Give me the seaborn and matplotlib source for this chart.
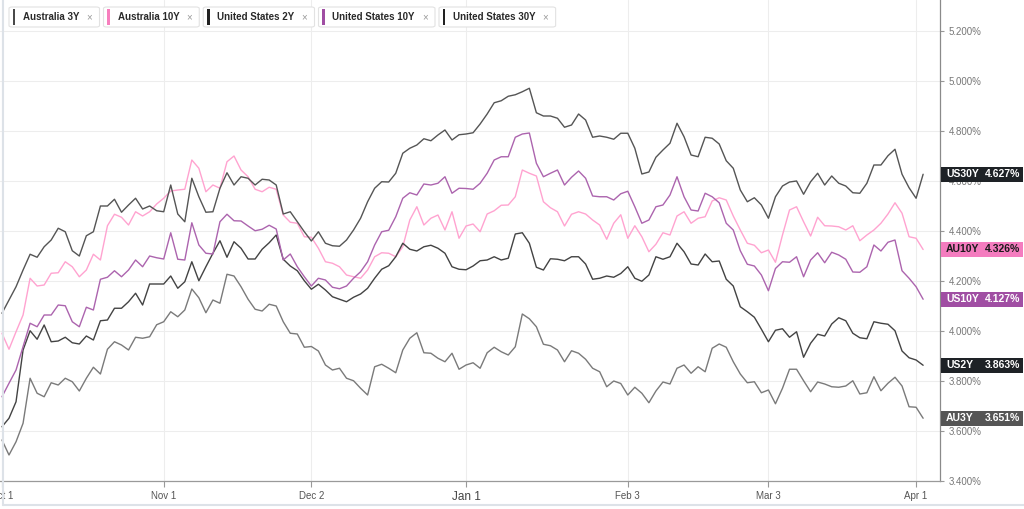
import numpy as np
import pandas as pd
import matplotlib
matplotlib.use("Agg")
import matplotlib.pyplot as plt
import matplotlib.transforms as mtransforms
from matplotlib.patches import Rectangle, FancyBboxPatch
from matplotlib.lines import Line2D
import seaborn as sns

# Trading days shown on the chart (one point per weekday)
dates = pd.bdate_range("2024-10-01", "2025-04-02")

# Yields (%), one value per weekday
au3y = [3.564, 3.504, 3.557, 3.631, 3.811, 3.751, 3.737, 3.793, 3.784, 3.811, 3.797, 3.760, 3.811, 3.855, 3.828, 3.927, 3.957, 3.944, 3.924, 3.975, 3.971, 3.977, 4.025,
        4.037, 4.077, 4.057, 4.084, 4.168, 4.133, 4.073, 4.124, 4.111, 4.227, 4.220, 4.177, 4.127, 4.087, 4.080, 4.107, 4.100, 4.037, 3.991, 3.988, 3.935, 3.938,
        3.920, 3.864, 3.844, 3.851, 3.811, 3.801, 3.771, 3.744, 3.857, 3.867, 3.851, 3.833, 3.924, 3.971, 3.993, 3.913, 3.911, 3.891, 3.877, 3.911, 3.847, 3.864,
        3.873, 3.851, 3.913, 3.935, 3.917, 3.904, 3.937, 4.068, 4.049, 4.017, 3.947, 3.941, 3.924, 3.877, 3.921, 3.911, 3.887, 3.851, 3.837, 3.777, 3.800, 3.790,
        3.744, 3.775, 3.751, 3.713, 3.760, 3.796, 3.788, 3.851, 3.864, 3.831, 3.857, 3.837, 3.931, 3.948, 3.935, 3.877, 3.828, 3.793, 3.797, 3.753, 3.764, 3.709,
        3.771, 3.847, 3.847, 3.801, 3.757, 3.796, 3.788, 3.777, 3.775, 3.780, 3.801, 3.748, 3.753, 3.817, 3.761, 3.791, 3.815, 3.780, 3.697, 3.695, 3.651]
au10y = [3.991, 3.927, 3.997, 4.064, 4.211, 4.180, 4.184, 4.231, 4.233, 4.277, 4.257, 4.217, 4.244, 4.307, 4.284, 4.421, 4.467, 4.455, 4.424, 4.477, 4.460, 4.477, 4.508,
         4.531, 4.560, 4.564, 4.567, 4.684, 4.651, 4.557, 4.584, 4.571, 4.677, 4.700, 4.644, 4.617, 4.567, 4.557, 4.575, 4.567, 4.464, 4.435, 4.431, 4.377, 4.375,
         4.331, 4.277, 4.271, 4.257, 4.224, 4.217, 4.211, 4.244, 4.297, 4.313, 4.311, 4.297, 4.337, 4.444, 4.497, 4.424, 4.451, 4.464, 4.404, 4.477, 4.371, 4.420,
         4.428, 4.397, 4.468, 4.481, 4.503, 4.504, 4.537, 4.644, 4.631, 4.620, 4.517, 4.493, 4.477, 4.420, 4.467, 4.477, 4.468, 4.444, 4.424, 4.367, 4.431, 4.465,
         4.371, 4.421, 4.377, 4.317, 4.347, 4.393, 4.384, 4.460, 4.477, 4.431, 4.451, 4.457, 4.520, 4.533, 4.524, 4.460, 4.404, 4.351, 4.343, 4.313, 4.324, 4.275,
         4.384, 4.484, 4.497, 4.437, 4.380, 4.455, 4.421, 4.420, 4.417, 4.404, 4.421, 4.361, 4.384, 4.404, 4.431, 4.468, 4.513, 4.471, 4.377, 4.371, 4.326]
us2y = [3.617, 3.651, 3.717, 3.924, 4.001, 3.967, 4.024, 3.957, 3.960, 3.975, 3.953, 3.948, 3.980, 3.964, 4.041, 4.044, 4.091, 4.091, 4.117, 4.151, 4.104, 4.188, 4.188,
        4.188, 4.220, 4.171, 4.197, 4.277, 4.201, 4.257, 4.311, 4.361, 4.295, 4.357, 4.331, 4.288, 4.288, 4.327, 4.353, 4.384, 4.287, 4.260, 4.241, 4.201, 4.167,
        4.187, 4.164, 4.137, 4.127, 4.117, 4.135, 4.148, 4.171, 4.211, 4.247, 4.261, 4.297, 4.351, 4.327, 4.320, 4.337, 4.343, 4.331, 4.311, 4.257, 4.247, 4.245,
        4.260, 4.281, 4.284, 4.297, 4.284, 4.291, 4.388, 4.393, 4.351, 4.255, 4.244, 4.289, 4.287, 4.281, 4.297, 4.297, 4.268, 4.207, 4.211, 4.220, 4.215, 4.230,
        4.257, 4.211, 4.199, 4.224, 4.297, 4.287, 4.297, 4.351, 4.317, 4.268, 4.264, 4.308, 4.277, 4.280, 4.207, 4.180, 4.097, 4.077, 4.055, 4.007, 3.957, 4.003,
        4.009, 3.975, 3.997, 3.895, 3.951, 3.987, 3.980, 4.028, 4.053, 4.041, 3.991, 3.973, 3.969, 4.037, 4.031, 4.027, 4.001, 3.920, 3.893, 3.884, 3.863]
us10y = [3.737, 3.791, 3.844, 3.937, 4.031, 4.017, 4.064, 4.064, 4.104, 4.101, 4.037, 4.017, 4.095, 4.084, 4.207, 4.215, 4.241, 4.217, 4.244, 4.284, 4.257, 4.300, 4.293,
         4.288, 4.393, 4.287, 4.284, 4.433, 4.344, 4.311, 4.308, 4.437, 4.467, 4.441, 4.440, 4.420, 4.401, 4.407, 4.423, 4.408, 4.284, 4.308, 4.257, 4.217, 4.180,
         4.211, 4.204, 4.175, 4.169, 4.180, 4.211, 4.237, 4.277, 4.344, 4.397, 4.403, 4.457, 4.531, 4.553, 4.544, 4.588, 4.584, 4.591, 4.617, 4.551, 4.571, 4.570,
         4.567, 4.591, 4.631, 4.684, 4.697, 4.697, 4.775, 4.788, 4.792, 4.671, 4.617, 4.631, 4.644, 4.584, 4.615, 4.640, 4.611, 4.540, 4.537, 4.537, 4.524, 4.549,
         4.559, 4.497, 4.431, 4.444, 4.497, 4.504, 4.544, 4.617, 4.537, 4.484, 4.480, 4.551, 4.537, 4.513, 4.431, 4.404, 4.321, 4.267, 4.260, 4.224, 4.161, 4.250,
         4.277, 4.275, 4.297, 4.217, 4.284, 4.313, 4.273, 4.315, 4.304, 4.287, 4.236, 4.235, 4.257, 4.344, 4.320, 4.355, 4.364, 4.241, 4.211, 4.177, 4.127]
us30y = [4.071, 4.124, 4.177, 4.244, 4.307, 4.295, 4.337, 4.364, 4.411, 4.397, 4.321, 4.300, 4.381, 4.397, 4.500, 4.500, 4.527, 4.475, 4.504, 4.531, 4.488, 4.500, 4.481,
         4.477, 4.584, 4.468, 4.437, 4.611, 4.537, 4.475, 4.477, 4.571, 4.633, 4.584, 4.617, 4.611, 4.584, 4.607, 4.604, 4.584, 4.468, 4.477, 4.437, 4.397, 4.360,
         4.397, 4.351, 4.341, 4.339, 4.364, 4.404, 4.451, 4.517, 4.571, 4.597, 4.596, 4.631, 4.711, 4.731, 4.744, 4.769, 4.761, 4.784, 4.804, 4.764, 4.785, 4.788,
         4.793, 4.828, 4.868, 4.913, 4.921, 4.939, 4.945, 4.957, 4.971, 4.873, 4.860, 4.860, 4.851, 4.815, 4.824, 4.868, 4.844, 4.775, 4.780, 4.775, 4.767, 4.791,
         4.791, 4.731, 4.628, 4.636, 4.695, 4.724, 4.751, 4.831, 4.777, 4.704, 4.697, 4.775, 4.771, 4.748, 4.681, 4.651, 4.564, 4.517, 4.533, 4.504, 4.451, 4.537,
         4.580, 4.596, 4.600, 4.547, 4.597, 4.631, 4.584, 4.620, 4.591, 4.580, 4.553, 4.551, 4.591, 4.664, 4.664, 4.701, 4.727, 4.627, 4.573, 4.531, 4.627]

series_names = ["Australia 3Y", "Australia 10Y", "United States 2Y", "United States 10Y", "United States 30Y"]
short_names = ["AU3Y", "AU10Y", "US2Y", "US10Y", "US30Y"]
series_values = [au3y, au10y, us2y, us10y, us30y]

tick_dates = ["2024-10-01", "2024-11-01", "2024-12-02", "2025-01-01", "2025-02-03", "2025-03-03", "2025-04-01"]
tick_labels = ["Oct 1", "Nov 1", "Dec 2", "Jan 1", "Feb 3", "Mar 3", "Apr 1"]
ytick_vals = [3.4, 3.6, 3.8, 4.0, 4.2, 4.4, 4.6, 4.8, 5.0, 5.2]

line_colors = ["#7a7a7a", "#ffa3d0", "#434343", "#ac64ae", "#555555"]
chip_colors = ["#4a4a4a", "#f77fbe", "#222222", "#a04ea3", "#222222"]
box_colors = ["#555555", "#f47cbf", "#1e2226", "#a04ea3", "#1e2226"]
box_text = ["white", "#1a1a1a", "white", "white", "white"]

# long table for seaborn
frames = []
for name, vals in zip(series_names, series_values):
    frames.append(pd.DataFrame({"Day": np.arange(len(dates)), "Date": dates, "Yield": vals, "Series": name}))
df = pd.concat(frames, ignore_index=True)

sns.set_style("white")
plt.rcParams["font.family"] = ["Liberation Sans", "DejaVu Sans"]

W, H = 1024, 509
fig = plt.figure(figsize=(W / 100, H / 100), dpi=100)
ax = fig.add_axes([0, 1 - 481 / H, 940 / W, 481 / H])

sns.lineplot(data=df, x="Day", y="Yield", hue="Series", hue_order=series_names,
             palette=dict(zip(series_names, line_colors)), linewidth=1.0, legend=False, ax=ax)

ax.set_xlim(-0.28, 133.4)
ax.set_ylim(3.4, 5.2 + 31 / 250)
ax.set_xlabel("")
ax.set_ylabel("")

# y axis on the right
ax.yaxis.tick_right()
ax.set_yticks(ytick_vals)
ax.set_yticklabels([f"{v:.3f}%" for v in ytick_vals])
ax.tick_params(axis="y", right=True, left=False, length=3, width=0.8, color="#999999",
               labelsize=7, labelcolor="#777777", pad=3)

# x axis at month starts
tick_pos = [dates.get_loc(pd.Timestamp(d)) for d in tick_dates]
ax.set_xticks(tick_pos)
ax.set_xticklabels([lab if lab != "Jan 1" else "" for lab in tick_labels])
ax.tick_params(axis="x", bottom=True, length=4, width=0.8, color="#999999",
               labelsize=7, labelcolor="#555555", pad=3)
jan = tick_labels.index("Jan 1")
ax.text(tick_pos[jan], -0.033, "Jan 1", transform=mtransforms.blended_transform_factory(ax.transData, ax.transAxes),
        ha="center", va="center", fontsize=8.5, color="#444444")

ax.grid(True, color="#ededed", linewidth=0.8)
ax.set_axisbelow(True)
for side in ["top", "left"]:
    ax.spines[side].set_visible(False)
ax.spines["bottom"].set_color("#9a9a9a")
ax.spines["right"].set_color("#8a8a8a")
ax.spines["bottom"].set_linewidth(0.9)
ax.spines["right"].set_linewidth(0.9)

# last value boxes on the right
trans = mtransforms.blended_transform_factory(fig.transFigure, ax.transData)
for short, vals, bc, tc in zip(short_names, series_values, box_colors, box_text):
    v = vals[-1]
    rect = Rectangle((941 / W, v - 0.03), 82 / W, 0.06, transform=trans, facecolor=bc,
                     edgecolor="none", clip_on=False, zorder=5)
    ax.add_artist(rect)
    ax.text(946 / W, v, short, transform=trans, color=tc, fontsize=7.5, fontweight="bold",
            ha="left", va="center", clip_on=False, zorder=6)
    ax.text(1020 / W, v, f"{v:.3f}%", transform=trans, color=tc, fontsize=7.5, fontweight="bold",
            ha="right", va="center", clip_on=False, zorder=6)

# legend chips along the top
fig.canvas.draw()
renderer = fig.canvas.get_renderer()
x = 9
for name, c in zip(series_names, chip_colors):
    t = fig.text((x + 14) / W, 1 - 17 / H, name, fontsize=7, fontweight="bold", color="#2a2a2a",
                 ha="left", va="center", zorder=8)
    bb = t.get_window_extent(renderer)
    tx = bb.x1 + 10
    fig.text(tx / W, 1 - 17.5 / H, "\u00d7", fontsize=7, color="#9a9a9a", ha="center", va="center", zorder=8)
    right = tx + 10
    chip = FancyBboxPatch((x / W, 1 - 27 / H), (right - x) / W, 20 / H, boxstyle="round,pad=0,rounding_size=0.003",
                          transform=fig.transFigure, facecolor="white", edgecolor="#e2e2e2", linewidth=0.8, zorder=7)
    fig.add_artist(chip)
    fig.add_artist(Rectangle(((x + 3.5) / W, 1 - 25 / H), 2.8 / W, 16 / H, transform=fig.transFigure,
                             facecolor=c, edgecolor="none", zorder=8))
    x = right + 4

# faint frame of the widget
fig.add_artist(Line2D([3 / W, 3 / W], [1 - 505 / H, 1], transform=fig.transFigure, color="#dde2e8", linewidth=1.5))
fig.add_artist(Line2D([3 / W, 1], [1 - 505 / H, 1 - 505 / H], transform=fig.transFigure, color="#dde2e8", linewidth=1.5))

fig.savefig("out.png", dpi=100, facecolor="white")
